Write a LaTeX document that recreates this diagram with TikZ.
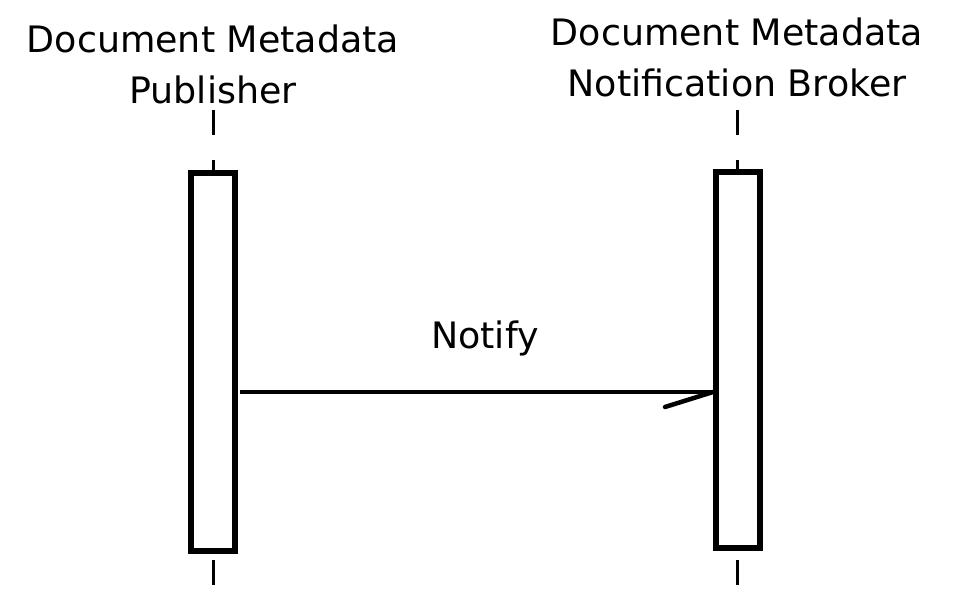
\documentclass[tikz,border=0pt]{standalone}
\usepackage{fontspec}
\setmainfont{DejaVu Sans}
\begin{document}
\begin{tikzpicture}[x=1pt,y=-1pt,
  lbl/.style={anchor=base,inner sep=0pt,font=\fontsize{36.4}{50}\selectfont},
  actbox/.style={draw=black,fill=white,line width=6pt,inner sep=0pt,minimum width=44pt},
  lifeline/.style={draw=black,line width=3pt,dash pattern=on 25pt off 25pt},
  msg/.style={draw=black,line width=4.5pt}]
\useasboundingbox (0,0) rectangle (964,610);
% labels
\node[lbl] (t1a) at (213,53) {Document Metadata};
\node[lbl] (t1b) at (213,103) {Publisher};
\node[lbl] (t2a) at (737,46) {Document Metadata};
\node[lbl] (t2b) at (737,96) {Notification Broker};
% lifelines
\coordinate (p1top) at (213,110);
\coordinate (p1bot) at (213,590);
\coordinate (p2top) at (737,110);
\coordinate (p2bot) at (737,590);
\path[lifeline] (p1top) -- (p1bot);
\path[lifeline] (p2top) -- (p2bot);
% activation boxes
\node[actbox,minimum height=378pt] (a1) at (212.5,362) {};
\node[actbox,minimum height=376pt] (a2) at (738,360) {};
% message
\coordinate (tip) at (a2.west |- 0,392);
\coordinate (start) at (240,392);
\path[msg] (start) -- (tip);
\path[msg,line cap=round] (tip) -- ++(-48,15);
\node[lbl] (m1) at (485,348) {Notify};
\end{tikzpicture}
\end{document}
